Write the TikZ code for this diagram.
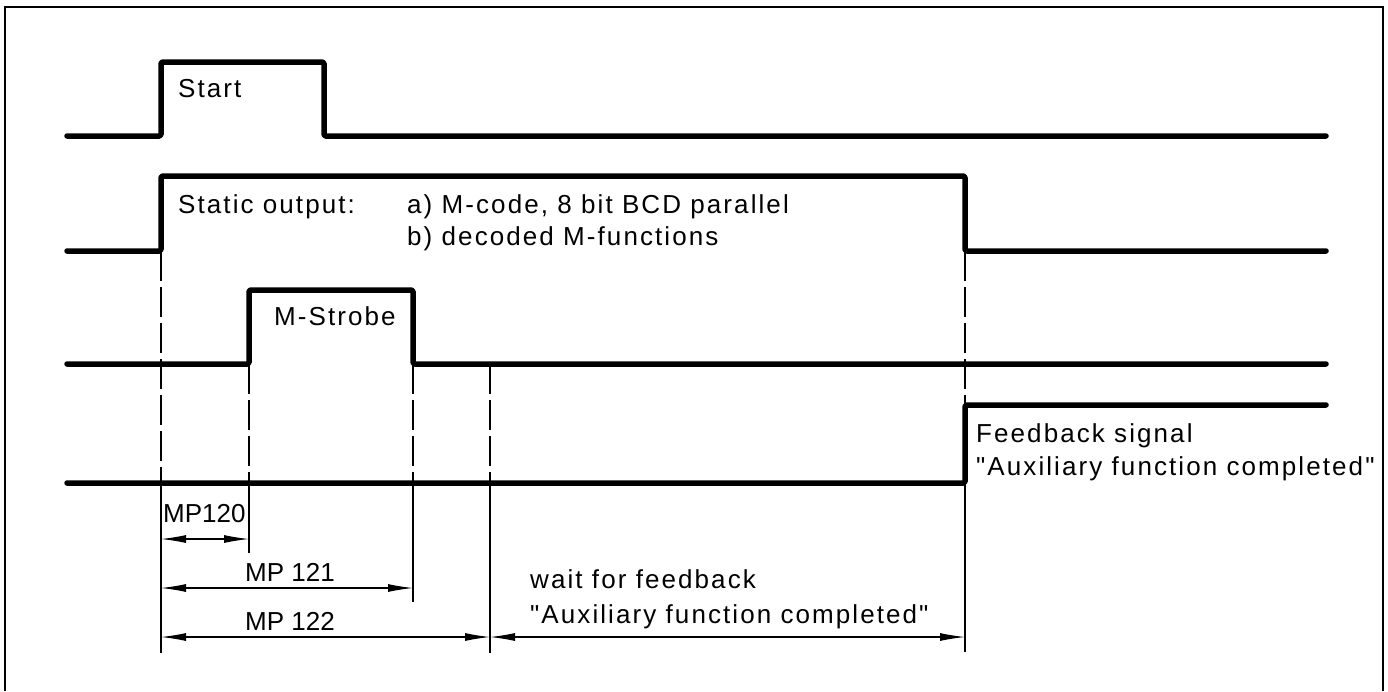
\documentclass[tikz,border=0pt]{standalone}
\usepackage{fontspec}
\newfontfamily\lbl[LetterSpace=8]{Liberation Sans}
\newfontfamily\lblmp{Liberation Sans}
\usetikzlibrary{arrows.meta}
\begin{document}
\begin{tikzpicture}[x=1pt,y=-1pt,
 sig/.style={line width=5.5pt, line cap=round, line join=round, rounded corners=1.5pt},
 guide/.style={line width=1.3pt, dash pattern=on 30pt off 6pt},
 ext/.style={line width=1.3pt},
 dim/.style={line width=1.1pt, {Latex[length=25pt,width=8pt]}-{Latex[length=25pt,width=8pt]}},
 lab/.style={font=\lbl\fontsize{26}{32}\selectfont, inner sep=0pt, anchor=base west},
 mplab/.style={font=\lblmp\fontsize{26}{32}\selectfont, inner sep=0pt, anchor=base west},
]
\useasboundingbox (0,0) rectangle (1388,691);
\draw[line width=2pt] (5,691) -- (5,7) -- (1383,7) -- (1383,691);
% signals
\draw[sig] (67,136) -- (161,136) -- (161,62) -- (324,62) -- (324,136) -- (1326,136);
\draw[sig] (67,251) -- (161,251) -- (161,176) -- (965,176) -- (965,251) -- (1326,251);
\draw[sig] (67,364) -- (249,364) -- (249,290) -- (413,290) -- (413,364) -- (1326,364);
\draw[sig] (67,483) -- (965,483) -- (965,405) -- (1326,405);
% guide coordinates
\coordinate (a0) at (161,251); \coordinate (a1) at (161,483); \coordinate (a2) at (161,653);
\coordinate (b0) at (249,364); \coordinate (b1) at (249,483); \coordinate (b2) at (249,553);
\coordinate (c0) at (413,364); \coordinate (c1) at (413,483); \coordinate (c2) at (413,602);
\coordinate (d0) at (490,364); \coordinate (d1) at (490,483); \coordinate (d2) at (490,653);
\coordinate (e0) at (965,251); \coordinate (e1) at (965,405); \coordinate (e2) at (965,483); \coordinate (e3) at (965,652);
\draw[guide] (a0) -- (a1); \draw[ext] (a1) -- (a2);
\draw[guide] (b0) -- (b1); \draw[ext] (b1) -- (b2);
\draw[guide] (c0) -- (c1); \draw[ext] (c1) -- (c2);
\draw[guide] (d0) -- (d1); \draw[ext] (d1) -- (d2);
\draw[guide] (e0) -- (e1); \draw[ext] (e2) -- (e3);
% dimension arrows
\coordinate (m0l) at (161,539); \coordinate (m0r) at (249,539);
\coordinate (m1l) at (161,588); \coordinate (m1r) at (413,588);
\coordinate (m2l) at (161,637); \coordinate (m2r) at (490,637);
\coordinate (wl) at (490,637); \coordinate (wr) at (965,637);
\draw[dim] (m0l) -- (m0r);
\draw[dim] (m1l) -- (m1r);
\draw[dim] (m2l) -- (m2r);
\draw[dim] (wl) -- (wr);
% labels
\node[lab] (start) at (178,97) {Start};
\node[lab] (static) at (178,213) {Static output:};
\node[lab] (sa) at (407,213) {a) M-code, 8 bit BCD parallel};
\node[lab] (sb) at (407,245) {b) decoded M-functions};
\node[lab] (strobe) at (274,325) {M-Strobe};
\node[lab] (fb1) at (976,442) {Feedback signal};
\node[lab] (fb2) at (976,475) {"Auxiliary function completed"};
\node[mplab] (mp120) at (163,522) {MP120};
\node[mplab] (mp121) at (245,581) {MP 121};
\node[mplab] (mp122) at (245,630) {MP 122};
\node[lab] (w1) at (530,588) {wait for feedback};
\node[lab] (w2) at (530,623) {"Auxiliary function completed"};
\end{tikzpicture}
\end{document}
